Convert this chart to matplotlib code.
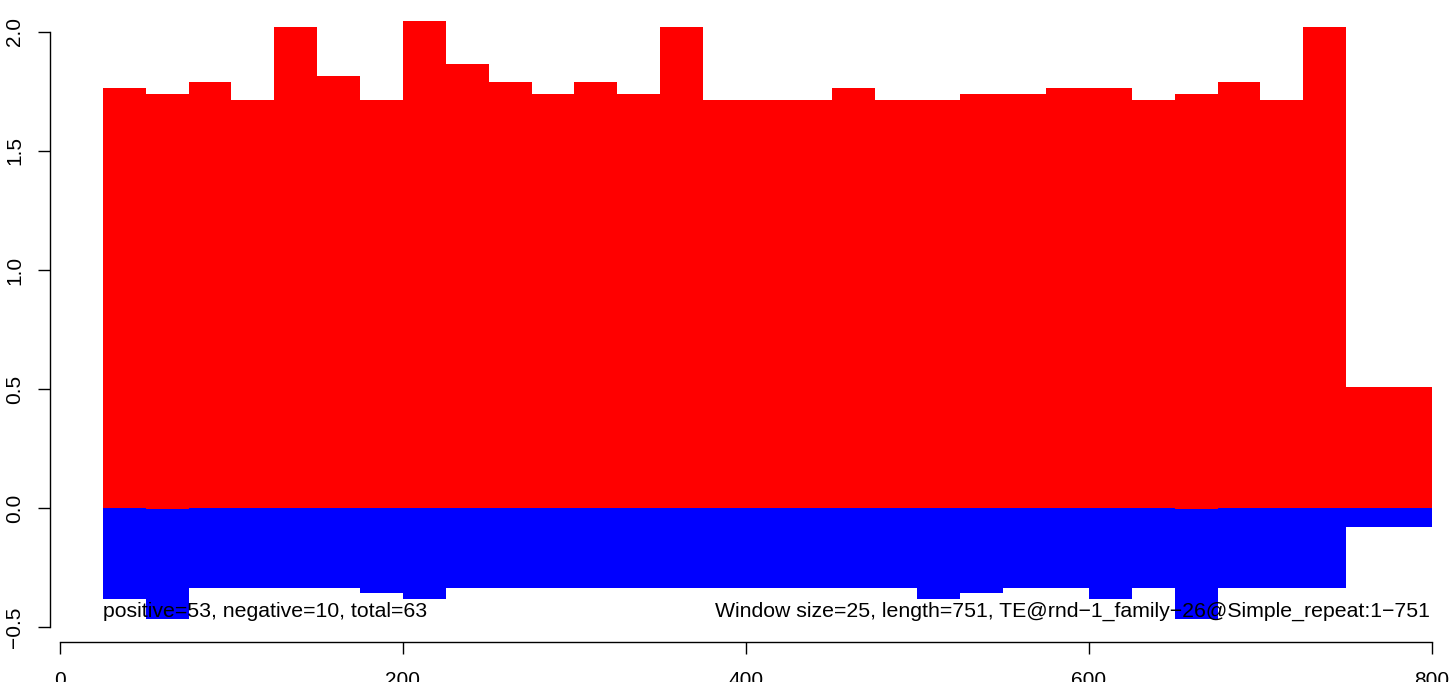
import matplotlib
matplotlib.use("Agg")
import matplotlib.pyplot as plt

plt.rcParams['font.family'] = ['Liberation Sans', 'DejaVu Sans']

# window boundaries
win_start = [25, 50, 75, 100, 125, 150, 175, 200, 225, 250, 275, 300, 325, 350, 375,
             400, 425, 450, 475, 500, 525, 550, 575, 600, 625, 650, 675, 700, 725, 750]
win_end = [50, 75, 100, 125, 150, 175, 200, 225, 250, 275, 300, 325, 350, 375, 400,
           425, 450, 475, 500, 525, 550, 575, 600, 625, 650, 675, 700, 725, 750, 800]
pos_vals = [1.765, 1.739, 1.790, 1.714, 2.021, 1.815, 1.714, 2.046, 1.866, 1.790,
            1.739, 1.790, 1.739, 2.021, 1.714, 1.714, 1.714, 1.765, 1.714, 1.714,
            1.739, 1.739, 1.765, 1.765, 1.714, 1.739, 1.790, 1.714, 2.021, 0.508]
pos_base = [0, -0.005, 0, 0, 0, 0, 0, 0, 0, 0, 0, 0, 0, 0, 0,
            0, 0, 0, 0, 0, 0, 0, 0, 0, 0, -0.005, 0, 0, 0, 0]
neg_vals = [-0.382, -0.466, -0.336, -0.336, -0.336, -0.336, -0.357, -0.382, -0.336, -0.336,
            -0.336, -0.336, -0.336, -0.336, -0.336, -0.336, -0.336, -0.336, -0.336, -0.382,
            -0.357, -0.336, -0.336, -0.382, -0.336, -0.466, -0.336, -0.336, -0.336, -0.078]
x_ticks = [0, 200, 400, 600, 800]
y_ticks = [-0.5, 0.0, 0.5, 1.0, 1.5, 2.0]
y_ticklabels = ["\u22120.5", "0.0", "0.5", "1.0", "1.5", "2.0"]
left_note = "positive=53, negative=10, total=63"
right_note = "Window size=25, length=751, TE@rnd\u22121_family\u221226@Simple_repeat:1\u2212751"

W, H = 1452, 682
fig = plt.figure(figsize=(W / 100, H / 100), dpi=100)

# pixel mapping of the reference
def px_x(v):
    return 60 + 1.715 * v

def px_y(v):
    return 508 - 238 * v

xlim = (-6, 831)
ylim = (-0.565, 2.15)
l, r = px_x(xlim[0]), px_x(xlim[1])
b, t = px_y(ylim[0]), px_y(ylim[1])
ax = fig.add_axes([l / W, (H - b) / H, (r - l) / W, (b - t) / H])
ax.set_xlim(*xlim)
ax.set_ylim(*ylim)

widths = [e - s for s, e in zip(win_start, win_end)]
ax.bar(win_start, neg_vals, width=widths, bottom=0, align='edge',
       color='#0000FF', linewidth=0, zorder=2)
ax.bar(win_start, [p - bb for p, bb in zip(pos_vals, pos_base)], width=widths,
       bottom=pos_base, align='edge', color='#FF0000', linewidth=0, zorder=3)

fs_note = 15.3
fs = 15
ax.text(25, -0.433, left_note, ha='left', va='center', fontsize=fs_note, color='black', zorder=5)
ax.text(799, -0.433, right_note, ha='right', va='center', fontsize=fs_note, color='black', zorder=5)

for s in ['top', 'right']:
    ax.spines[s].set_visible(False)
ax.spines['left'].set_bounds(-0.5, 2.0)
ax.spines['bottom'].set_bounds(0, 800)
ax.spines['left'].set_linewidth(1.0)
ax.spines['bottom'].set_linewidth(1.0)

ax.set_xticks(x_ticks)
ax.set_xticklabels([str(v) for v in x_ticks])
ax.set_yticks(y_ticks)
ax.set_yticklabels(y_ticklabels, rotation=90, va='center')
ax.tick_params(axis='both', direction='out', length=8.6, width=1.0, labelsize=fs)
ax.tick_params(axis='x', pad=12)
ax.tick_params(axis='y', pad=10)
ax.patch.set_alpha(0)

fig.savefig("out.png", dpi=100)
